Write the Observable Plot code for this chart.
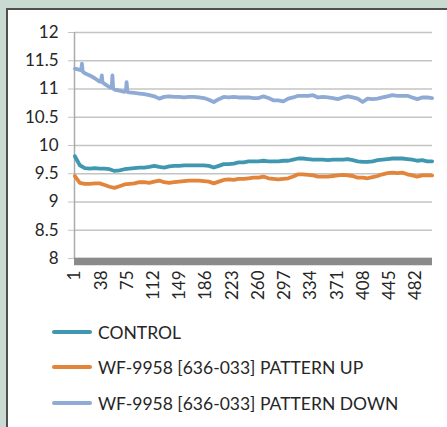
<!DOCTYPE html>
<html>
<head>
<meta charset="utf-8">
<script src="https://cdn.jsdelivr.net/npm/d3@7"></script>
<script src="https://cdn.jsdelivr.net/npm/@observablehq/plot@0.6"></script>
<style>
  html, body { margin: 0; padding: 0; }
  body { width: 447px; height: 427px; overflow: hidden; background: #c9dad2; position: relative; font-family: Lato, "Open Sans", sans-serif; }
  #panel { position: absolute; left: 6px; top: 8px; width: 520px; height: 520px; background: #fff; border-left: 2px solid #4f4f4f; border-top: 2px solid #4f4f4f; }
  #chart { position: absolute; left: 0; top: 0; }
  #legend { position: absolute; left: 0; top: 0; }
  .item { position: absolute; left: 52px; height: 20px; display: flex; align-items: center; font-size: 17.5px; color: #262626; white-space: nowrap; }
  .sw { width: 40px; height: 4px; border-radius: 2px; margin-right: 6px; }
</style>
</head>
<body>
<div id="panel"></div>
<div id="chart"></div>
<div id="legend"></div>
<script>
// Category index (x) sampled along the 505 readings
const cats = d3.range(1, 506, 7);
const yTicks = [8, 8.5, 9, 9.5, 10, 10.5, 11, 11.5, 12];
const xTickLabels = [1, 38, 75, 112, 149, 186, 223, 260, 297, 334, 371, 408, 445, 482];
const seriesNames = ["CONTROL", "WF-9958 [636-033] PATTERN UP", "WF-9958 [636-033] PATTERN DOWN"];
const seriesColors = ["#3f98b0", "#e2843a", "#8eaad5"];

const control = [
  9.81, 9.65, 9.60, 9.59, 9.60, 9.59, 9.59, 9.58, 9.55, 9.56,
  9.58, 9.59, 9.60, 9.61, 9.61, 9.62, 9.64, 9.62, 9.61, 9.63,
  9.64, 9.64, 9.65, 9.65, 9.65, 9.65, 9.65, 9.64, 9.61, 9.64,
  9.67, 9.67, 9.68, 9.70, 9.70, 9.72, 9.72, 9.72, 9.73, 9.72,
  9.72, 9.72, 9.73, 9.73, 9.75, 9.77, 9.77, 9.76, 9.75, 9.75,
  9.75, 9.74, 9.75, 9.75, 9.75, 9.76, 9.74, 9.72, 9.71, 9.71,
  9.72, 9.74, 9.75, 9.76, 9.77, 9.77, 9.77, 9.76, 9.75, 9.73,
  9.74, 9.72, 9.72
];
const patternUp = [
  9.46, 9.34, 9.32, 9.32, 9.33, 9.33, 9.30, 9.27, 9.25, 9.28,
  9.31, 9.32, 9.33, 9.35, 9.35, 9.34, 9.36, 9.38, 9.35, 9.34,
  9.35, 9.36, 9.37, 9.38, 9.38, 9.38, 9.37, 9.36, 9.33, 9.36,
  9.39, 9.40, 9.39, 9.41, 9.41, 9.42, 9.43, 9.43, 9.45, 9.42,
  9.41, 9.40, 9.41, 9.42, 9.45, 9.49, 9.49, 9.48, 9.47, 9.45,
  9.45, 9.45, 9.46, 9.47, 9.48, 9.47, 9.46, 9.43, 9.43, 9.42,
  9.44, 9.46, 9.49, 9.51, 9.52, 9.51, 9.52, 9.49, 9.47, 9.45,
  9.47, 9.47, 9.47
];
const patternDown = [
  11.36, 11.34, 11.28, 11.24, 11.19, 11.13, 11.09, 11.03, 10.99, 10.97,
  10.95, 10.94, 10.93, 10.92, 10.91, 10.89, 10.87, 10.83, 10.86, 10.87,
  10.86, 10.86, 10.85, 10.86, 10.86, 10.85, 10.84, 10.81, 10.77, 10.82,
  10.86, 10.85, 10.86, 10.85, 10.85, 10.85, 10.84, 10.84, 10.87, 10.84,
  10.80, 10.80, 10.78, 10.83, 10.85, 10.88, 10.88, 10.88, 10.89, 10.85,
  10.86, 10.85, 10.84, 10.82, 10.85, 10.87, 10.85, 10.83, 10.77, 10.83,
  10.82, 10.83, 10.85, 10.87, 10.89, 10.88, 10.88, 10.88, 10.85, 10.82,
  10.85, 10.85, 10.84
];
// short spikes in the PATTERN DOWN series
const downSpikeCats = [10, 11, 12, 38, 39, 40, 53, 54, 55, 73, 74, 75];
const downSpikeVals = [11.33, 11.45, 11.31, 11.14, 11.24, 11.12, 11.02, 11.24, 11.01, 10.96, 11.12, 10.95];

const rows = [];
cats.forEach((c, i) => {
  rows.push({x: c, y: control[i], s: seriesNames[0]});
  rows.push({x: c, y: patternUp[i], s: seriesNames[1]});
});
const downRows = cats.map((c, i) => ({x: c, y: patternDown[i], s: seriesNames[2]}))
  .concat(downSpikeCats.map((c, i) => ({x: c, y: downSpikeVals[i], s: seriesNames[2]})))
  .sort((a, b) => a.x - b.x);
const data = rows.concat(downRows);

const chart = Plot.plot({
  width: 447,
  height: 300,
  marginLeft: 74,
  marginRight: 15,
  marginTop: 32,
  marginBottom: 42,
  style: {fontFamily: "Lato, 'Open Sans', sans-serif", fontSize: "17px", color: "#262626", background: "transparent", overflow: "visible"},
  x: {domain: [0.5, 505.5]},
  y: {domain: [8, 12]},
  color: {domain: seriesNames, range: seriesColors},
  marks: [
    Plot.gridY(yTicks, {stroke: "#c4c4c4", strokeOpacity: 1, strokeWidth: 1.5}),
    Plot.axisY(yTicks, {tickSize: 6, tickPadding: 10, stroke: "#c4c4c4", label: null, fontSize: 17, tickFormat: d => String(d)}),
    Plot.ruleX([0.5], {y1: 8, y2: 12, stroke: "#ababab", strokeWidth: 1.5}),
    Plot.lineY(data, {x: "x", y: "y", z: "s", stroke: "s", strokeWidth: 3.8, curve: "linear"}),
    Plot.ruleY([8], {stroke: "#8a8a8a", strokeWidth: 7.5, dy: 3}),
    Plot.axisX(xTickLabels, {tickSize: 0, tickPadding: 12, tickRotate: -90, label: null, fontSize: 17})
  ]
});
document.getElementById("chart").appendChild(chart);

const legend = document.getElementById("legend");
const legendTops = [322, 357, 393];
seriesNames.forEach((name, i) => {
  const item = document.createElement("div");
  item.className = "item";
  item.style.top = legendTops[i] + "px";
  const sw = document.createElement("div");
  sw.className = "sw";
  sw.style.background = seriesColors[i];
  const t = document.createElement("span");
  t.textContent = name;
  item.appendChild(sw);
  item.appendChild(t);
  legend.appendChild(item);
});
</script>
</body>
</html>
